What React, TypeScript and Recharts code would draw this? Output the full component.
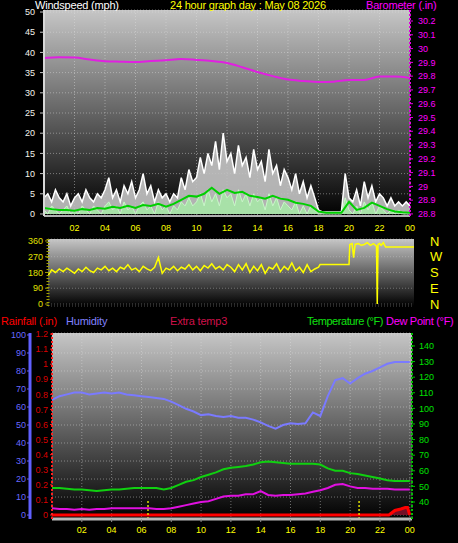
import React from 'react';
import {
	ComposedChart,
	Line,
	Area,
	XAxis,
	YAxis,
	CartesianGrid,
	ReferenceLine
} from 'recharts';

const FONT = '"Liberation Sans", Arial, sans-serif';

const hourTicks = [2, 4, 6, 8, 10, 12, 14, 16, 18, 20, 22, 24];
const hourLabel = (h: number) => String(h % 24).padStart(2, '0');

// windspeed, one sample every 15 minutes from 00:00
const gustMph = [
	4, 5, 3, 6, 4, 3, 5, 2, 4,
	5, 3, 6, 4, 3, 5, 4, 6,
	9, 4, 6, 3, 7, 5, 8, 4,
	6, 10, 5, 7, 3, 6, 4, 5,
	3, 5, 4, 9, 6, 11, 8, 9,
	14, 10, 15, 12, 18, 11, 20, 13,
	15, 10, 17, 12, 14, 9, 16, 11,
	13, 8, 16, 10, 12, 7, 11, 9,
	6, 10, 5, 8, 4, 7, 4, 1,
	0.5, 0.5, 0.5, 0.5, 0.5, 0.5, 10, 4,
	3, 6, 2, 8, 4, 7, 3, 5,
	4, 2, 4, 2, 3, 2, 3, 2
];
const speedMph = [
	1, 0, 2, 1, 0, 1, 2, 0, 1,
	0, 2, 1, 0, 2, 1, 0, 2,
	3, 1, 2, 0, 3, 1, 2, 0,
	2, 3, 1, 2, 0, 3, 1, 2,
	0, 2, 1, 3, 2, 4, 2, 3,
	5, 2, 6, 3, 5, 2, 6, 4,
	5, 2, 6, 3, 5, 2, 5, 3,
	4, 1, 5, 2, 4, 1, 3, 2,
	1, 3, 0, 2, 0, 2, 1, 0,
	0, 0, 0, 0, 0, 0, 4, 1,
	0, 2, 0, 3, 1, 3, 0, 2,
	1, 0, 1, 0, 1, 0, 0, 0
];
// average wind, every 30 minutes
const avgMph = [
	1.5, 1.2, 1.0, 1.0, 0.8, 1.2, 1.0, 1.5, 1.3, 1.8, 1.5, 2.0, 1.5, 2.2, 2.0, 2.5,
	1.8, 2.5, 3.5, 4.5, 4.3, 5.0, 6.5, 5.0, 6.0, 5.2, 5.5, 4.5, 4.2, 3.8, 4.5, 3.8,
	3.5, 2.8, 2.5, 2.0, 0.6, 0.3, 0.3, 0.3, 3.0, 1.0, 1.5, 2.8, 2.0, 1.2, 0.6, 0.4, 0.3
];
// barometer, hourly
const baroIn = [
	29.932, 29.937, 29.935, 29.92, 29.908, 29.905, 29.903, 29.91, 29.916, 29.924,
	29.918, 29.91, 29.896, 29.865, 29.83, 29.8, 29.775, 29.765, 29.758, 29.76,
	29.772, 29.772, 29.797, 29.797, 29.787
];

// wind direction, every 15 minutes from 00:15 to 18:00
const windDirEarly = [
	160, 195, 180, 200, 185, 205, 190, 175,
	200, 185, 210, 190, 180, 205, 195, 215,
	190, 205, 185, 210, 200, 225, 195, 205,
	185, 215, 200, 190, 210, 265, 175, 205,
	195, 215, 190, 210, 200, 225, 195, 215,
	190, 220, 205, 230, 200, 215, 195, 225,
	210, 185, 225, 195, 230, 180, 215, 190,
	225, 175, 210, 200, 230, 185, 215, 195,
	235, 190, 210, 180, 225, 185, 200, 210
];
const windDirLateHours = [18.1, 20.0, 20.05, 20.2, 20.3, 20.4, 20.6, 20.8, 21.0, 21.2, 21.4, 21.6, 21.8, 21.85, 21.9, 22.0, 22.1, 22.25, 22.4, 24.26];
const windDirLate = [225, 225, 340, 345, 265, 340, 345, 335, 340, 350, 335, 345, 330, 0, 340, 345, 335, 350, 325, 325];

// every 30 minutes
const humidityPct = [
	64, 66, 67, 68, 68, 67, 67.5, 68, 67.5, 68, 67, 66.5, 66, 65.5, 65, 64.5,
	63, 61, 59, 57.5, 55.5, 56, 55, 54.5, 55, 54, 54, 53, 51.5, 49.5, 48, 50,
	51, 50.5, 51, 57, 55, 66, 75, 76, 73, 76, 78.5, 80, 82, 84, 85, 85, 85
];
const tempF = [
	49, 49, 48.5, 48, 48, 47.5, 47, 47.5, 48, 48, 48.5, 49, 49, 49, 49, 48,
	49, 51, 53, 54, 56, 57.5, 59, 61, 62, 62.5, 63, 64, 65.5, 66, 65.5, 65,
	64.5, 64.5, 64.5, 64.5, 64, 61.5, 60, 60, 58.5, 58, 57, 56, 55, 54, 53.5, 53.5, 53.5
];
const dewF = [
	36, 35.5, 35.5, 35, 35.5, 35, 35.5, 35.5, 36, 36, 36, 36, 36, 36, 35.5, 35.5,
	36, 37, 38, 39, 40, 40.5, 42, 43.5, 44, 44, 45, 45, 47, 44.5, 44, 44.5,
	44.5, 45, 45.5, 46.5, 47.5, 49, 51, 51.5, 50, 49, 49, 48.5, 48.5, 48.5, 48, 48, 48
];
const rainHours = [0, 22.6, 23.0, 23.4, 23.7, 23.85, 24];
const rainIn = [0, 0, 0.03, 0.04, 0.05, 0.05, 0];
const sunHours = [6.44, 20.6];

const windTicks = [0, 5, 10, 15, 20, 25, 30, 35, 40, 45, 50];
const baroTicks = [28.8, 28.9, 29, 29.1, 29.2, 29.3, 29.4, 29.5, 29.6, 29.7, 29.8, 29.9, 30, 30.1, 30.2];
const dirTicks = [0, 90, 180, 270, 360];
const compass: Record<number, string> = { 0: 'N', 90: 'E', 180: 'S', 270: 'W', 360: 'N' };
const humTicks = [0, 10, 20, 30, 40, 50, 60, 70, 80, 90, 100];
const rainTicks = [0, 0.1, 0.2, 0.3, 0.4, 0.5, 0.6, 0.7, 0.8, 0.9, 1, 1.1, 1.2];
const tempTicks = [40, 50, 60, 70, 80, 90, 100, 110, 120, 130, 140];

const series = (vals: number[], step: number, start = 0) =>
	vals.map((v, i) => ({ h: start + i * step, v }));
const pairs = (hours: number[], vals: number[]) => hours.map((h, i) => ({ h, v: vals[i] }));

const tickStyle = (fill: string, size = 9) => ({ fill, fontSize: size, fontFamily: FONT });

const Title: React.FC<{ x: number; y: number; color: string; spacing?: number; children: React.ReactNode }> = ({
	x,
	y,
	color,
	spacing = -0.2,
	children
}) => (
	<div
		style={{
			position: 'absolute',
			left: x,
			top: y,
			color,
			fontSize: 11,
			fontFamily: FONT,
			lineHeight: '12px',
			letterSpacing: spacing,
			whiteSpace: 'nowrap'
		}}
	>
		{children}
	</div>
);

const Gradient: React.FC<{ id: string }> = ({ id }) => (
	<defs>
		<linearGradient id={id} x1="0" y1="0" x2="0" y2="1">
			<stop offset="0%" stopColor="#c6c6c6" />
			<stop offset="55%" stopColor="#5a5a5a" />
			<stop offset="100%" stopColor="#000000" />
		</linearGradient>
	</defs>
);

const WindChart = () => (
	<ComposedChart width={458} height={240} margin={{ top: 10, right: 0, bottom: 0, left: 0 }}>
		<Gradient id="bgWind" />
		<CartesianGrid yAxisId="wind" fill="url(#bgWind)" stroke="#e0e0e0" strokeOpacity={0.45} strokeDasharray="1 2" />
		<XAxis
			dataKey="h"
			type="number"
			domain={[0, 24]}
			ticks={hourTicks}
			tickFormatter={hourLabel}
			interval={0}
			height={24}
			tickSize={4}
			tickMargin={5}
			tickLine={false}
			axisLine={{ stroke: '#b0b0b0', strokeWidth: 2 }}
			tick={tickStyle('#ffff00')}
			allowDataOverflow
		/>
		<YAxis
			yAxisId="wind"
			domain={[-0.5, 50.5]}
			ticks={windTicks}
			interval={0}
			width={44}
			tickSize={4}
			tickMargin={5}
			tickLine={{ stroke: '#c8c8c8' }}
			axisLine={{ stroke: '#d8d8d8', strokeWidth: 2 }}
			tick={tickStyle('#f4f4ec')}
			allowDataOverflow
		/>
		<YAxis
			yAxisId="baro"
			orientation="right"
			domain={[28.785, 30.28]}
			ticks={baroTicks}
			interval={0}
			width={48}
			tickSize={3}
			tickMargin={5}
			tickLine={{ stroke: '#e000e0' }}
			axisLine={{ stroke: '#e000e0', strokeWidth: 2, strokeDasharray: '2 2' }}
			tick={tickStyle('#ff00ff')}
			allowDataOverflow
		/>
		<Area
			yAxisId="wind"
			data={series(gustMph, 0.25)}
			dataKey="v"
			type="linear"
			stroke="#ffffff"
			strokeWidth={1.5}
			fill="#c4c4c4"
			fillOpacity={0.9}
			isAnimationActive={false}
		/>
		<Area
			yAxisId="wind"
			data={series(speedMph, 0.25)}
			dataKey="v"
			type="linear"
			stroke="#c8f8c8"
			strokeWidth={1}
			fill="#a8e4a8"
			fillOpacity={0.95}
			isAnimationActive={false}
		/>
		<Line
			yAxisId="wind"
			data={series(avgMph, 0.5)}
			dataKey="v"
			type="linear"
			stroke="#00d000"
			strokeWidth={2}
			dot={false}
			isAnimationActive={false}
		/>
		<Line
			yAxisId="baro"
			data={series(baroIn, 1)}
			dataKey="v"
			type="monotone"
			stroke="#e020e0"
			strokeWidth={2}
			dot={false}
			isAnimationActive={false}
		/>
	</ComposedChart>
);

const DirectionChart = () => (
	<ComposedChart width={458} height={86} margin={{ top: 9, right: 0, bottom: 10, left: 0 }}>
		<Gradient id="bgDir" />
		<CartesianGrid yAxisId="dir" vertical={false} fill="url(#bgDir)" stroke="#d0d0d0" strokeOpacity={0.4} strokeDasharray="1 2" />
		<XAxis dataKey="h" type="number" domain={[0.26, 24.26]} hide allowDataOverflow />
		<YAxis
			yAxisId="dir"
			domain={[-11.4, 371]}
			ticks={dirTicks}
			interval={0}
			width={48}
			tickSize={3}
			tickMargin={2}
			tickLine={{ stroke: '#a0a000' }}
			axisLine={{ stroke: '#a0a000', strokeWidth: 3, strokeDasharray: '1 2' }}
			tick={tickStyle('#e0e000')}
			allowDataOverflow
		/>
		<YAxis
			yAxisId="compass"
			orientation="right"
			domain={[-11.4, 371]}
			ticks={dirTicks}
			interval={0}
			tickFormatter={(v: number) => compass[v]}
			width={44}
			tickSize={0}
			tickMargin={16}
			tickLine={false}
			axisLine={false}
			tick={{ ...tickStyle('#ffff00', 13), textAnchor: 'start' }}
			allowDataOverflow
		/>
		<Line
			yAxisId="dir"
			data={[...series(windDirEarly, 0.25, 0.25), ...pairs(windDirLateHours, windDirLate)]}
			dataKey="v"
			type="linear"
			stroke="#ffff00"
			strokeWidth={1.5}
			dot={false}
			isAnimationActive={false}
		/>
	</ComposedChart>
);

// left axes are stacked by id: "a_rain" sits next to the plot, "b_hum" outside it
const ClimateChart = () => (
	<ComposedChart width={458} height={218} margin={{ top: 8, right: 0, bottom: 0, left: 0 }}>
		<Gradient id="bgClimate" />
		<CartesianGrid yAxisId="b_hum" fill="url(#bgClimate)" stroke="#e0e0e0" strokeOpacity={0.45} strokeDasharray="1 2" />
		<XAxis
			dataKey="h"
			type="number"
			domain={[0, 24.15]}
			ticks={hourTicks}
			tickFormatter={hourLabel}
			interval={0}
			height={24}
			tickSize={3}
			tickMargin={5}
			tickLine={{ stroke: '#909090' }}
			axisLine={{ stroke: '#b8b8b8', strokeWidth: 3 }}
			tick={tickStyle('#ffff00')}
			allowDataOverflow
		/>
		<YAxis
			yAxisId="a_rain"
			domain={[-0.0265, 1.207]}
			ticks={rainTicks}
			interval={0}
			width={22}
			tickSize={2}
			tickMargin={2}
			tickLine={{ stroke: '#ff2020' }}
			axisLine={{ stroke: '#ff2020', strokeWidth: 2, strokeDasharray: '2 2' }}
			tick={tickStyle('#d80000')}
			allowDataOverflow
		/>
		<YAxis
			yAxisId="b_hum"
			domain={[-2.2, 101.1]}
			ticks={humTicks}
			interval={0}
			width={30}
			tickSize={3}
			tickMargin={1}
			tickLine={{ stroke: '#6060ff' }}
			axisLine={{ stroke: '#6060ff', strokeWidth: 3 }}
			tick={tickStyle('#6a6aff')}
			allowDataOverflow
		/>
		<YAxis
			yAxisId="temp"
			orientation="right"
			domain={[29.1, 148.3]}
			ticks={tempTicks}
			interval={0}
			width={46}
			tickSize={3}
			tickMargin={4}
			tickLine={{ stroke: '#00c000' }}
			axisLine={{ stroke: '#00c000', strokeWidth: 2, strokeDasharray: '2 2' }}
			tick={tickStyle('#00e000')}
			allowDataOverflow
		/>
		{sunHours.map((h) => (
			<ReferenceLine
				key={h}
				yAxisId="a_rain"
				segment={[{ x: h, y: -0.0265 }, { x: h, y: 0.1 }]}
				stroke="#e0e000"
				strokeDasharray="2 2"
				strokeWidth={1.5}
			/>
		))}
		<Line
			yAxisId="b_hum"
			data={series(humidityPct, 0.5)}
			dataKey="v"
			type="linear"
			stroke="#7a7aff"
			strokeWidth={2}
			dot={false}
			isAnimationActive={false}
		/>
		<Line
			yAxisId="temp"
			data={series(tempF, 0.5)}
			dataKey="v"
			type="linear"
			stroke="#10d010"
			strokeWidth={2}
			dot={false}
			isAnimationActive={false}
		/>
		<Line
			yAxisId="temp"
			data={series(dewF, 0.5)}
			dataKey="v"
			type="linear"
			stroke="#e010e0"
			strokeWidth={2}
			dot={false}
			isAnimationActive={false}
		/>
		<Area
			yAxisId="a_rain"
			data={pairs(rainHours, rainIn)}
			dataKey="v"
			type="linear"
			stroke="#ff0000"
			strokeWidth={3}
			fill="#80102a"
			fillOpacity={0.9}
			isAnimationActive={false}
		/>
	</ComposedChart>
);

export default function App() {
	return (
		<div
			style={{
				position: 'absolute',
				left: 0,
				top: 0,
				width: 458,
				height: 543,
				background: '#000',
				overflow: 'hidden',
				fontFamily: FONT
			}}
		>
			<div style={{ position: 'absolute', left: 0, top: 0 }}>
				<WindChart />
			</div>
			<div style={{ position: 'absolute', left: 0, top: 230 }}>
				<DirectionChart />
			</div>
			<div style={{ position: 'absolute', left: 0, top: 325 }}>
				<ClimateChart />
			</div>
			<Title x={35} y={-1} color="#ffffff">Windspeed (mph)</Title>
			<Title x={170} y={-1} color="#ffff00">24 hour graph day : May 08 2026</Title>
			<Title x={366} y={-1} color="#ff00ff">Barometer (.in)</Title>
			<Title x={1} y={315} color="#ff0000">Rainfall (.in)</Title>
			<Title x={66} y={315} color="#8080ff">Humidity</Title>
			<Title x={170} y={315} color="#d0104a">Extra temp3</Title>
			<Title x={307} y={315} color="#10e010" spacing={-0.45}>Temperature (°F)</Title>
			<Title x={386} y={315} color="#ff00ff" spacing={-0.3}>Dew Point (°F)</Title>
		</div>
	);
}
